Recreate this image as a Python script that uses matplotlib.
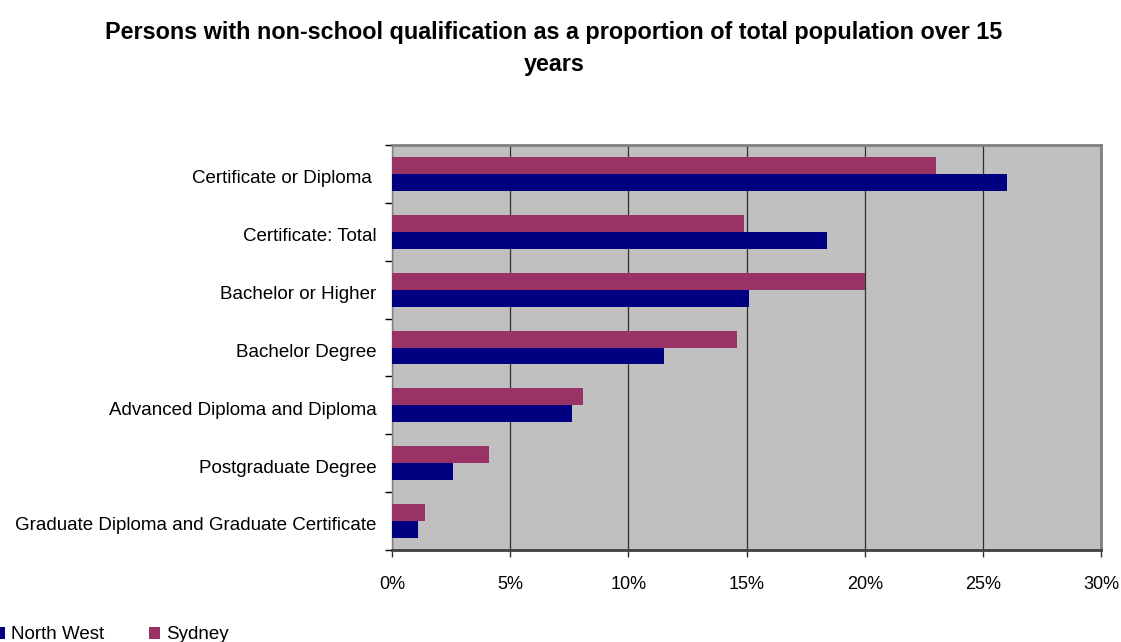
import numpy as np
import matplotlib.pyplot as plt
from matplotlib.ticker import FixedLocator, PercentFormatter

plt.rcParams['font.family'] = ['Liberation Sans', 'DejaVu Sans']

categories = ["Certificate or Diploma ", "Certificate: Total", "Bachelor or Higher",
              "Bachelor Degree", "Advanced Diploma and Diploma", "Postgraduate Degree",
              "Graduate Diploma and Graduate Certificate"]
north_west = [26.0, 18.4, 15.1, 11.5, 7.6, 2.6, 1.1]
sydney = [23.0, 14.9, 20.0, 14.6, 8.1, 4.1, 1.4]

nw_color = "#000080"
syd_color = "#993366"

fig = plt.figure(figsize=(11.21, 6.42), dpi=100)
ax = fig.add_axes([0.3497, 0.1433, 0.6325, 0.6308])
ax.set_facecolor("#C0C0C0")

y = np.arange(len(categories))
h = 0.293
b_nw = ax.barh(y + h / 2, north_west, height=h, color=nw_color, label="North West", zorder=3)
b_syd = ax.barh(y - h / 2, sydney, height=h, color=syd_color, label="Sydney", zorder=3)

ax.set_xlim(0, 30)
ax.set_ylim(len(categories) - 0.5, -0.5)
ax.set_xticks(np.arange(0, 31, 5))
ax.xaxis.set_major_formatter(PercentFormatter(decimals=0))
ax.grid(axis="x", color="#303030", linewidth=0.9, zorder=1)

ax.set_yticks(y + 0.05)
ax.set_yticklabels(categories, fontsize=13.5)
ax.tick_params(axis="y", which="major", length=0, pad=11)
ax.yaxis.set_minor_locator(FixedLocator(np.arange(-0.5, len(categories), 1)))
ax.tick_params(axis="y", which="minor", length=5, width=1, direction="out", color="black")
ax.tick_params(axis="x", labelsize=13, length=5, width=1, pad=14, color="#303030")

for s in ["top", "right"]:
    ax.spines[s].set_color("#808080")
    ax.spines[s].set_linewidth(2)
ax.spines["bottom"].set_color("#404040")
ax.spines["bottom"].set_linewidth(2)
ax.spines["left"].set_color("#808080")
ax.spines["left"].set_linewidth(1)

fig.text(0.494, 0.968, "Persons with non-school qualification as a proportion of total population over 15\nyears",
         ha="center", va="top", fontsize=16.8, fontweight="bold", linespacing=1.55)

fig.legend(handles=[b_nw, b_syd], loc="lower left", bbox_to_anchor=(-0.012, -0.014), ncol=2,
           frameon=False, fontsize=13.5, handlelength=0.6, handleheight=0.6, handletextpad=0.3,
           columnspacing=2.4, borderaxespad=0.0)

fig.savefig("out.png", dpi=100)
